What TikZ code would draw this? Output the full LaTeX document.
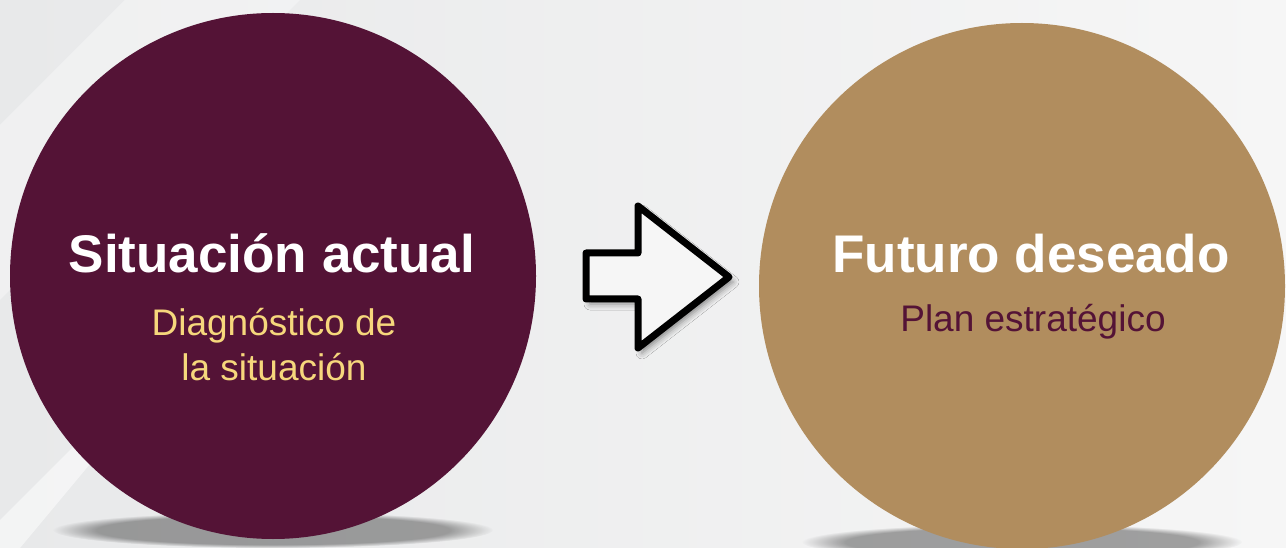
\documentclass[tikz,border=0pt]{standalone}
\usepackage{fontspec}
\setmainfont{Liberation Sans}
\usepackage{tikz}
\usetikzlibrary{shadows.blur,fadings}
\definecolor{vino}{HTML}{541336}
\definecolor{oro}{HTML}{B18D5E}
\definecolor{amarillo}{HTML}{F6D77C}
\definecolor{fondoA}{HTML}{E8E9EA}
\definecolor{fondoB}{HTML}{F6F6F6}
\tikzset{circulo/.style={circle,minimum size=526pt,inner sep=0pt},
         titulo/.style={text=white,anchor=base,font=\fontsize{53}{60}\selectfont\bfseries},
         subtitulo/.style={anchor=base,align=center,font=\fontsize{37}{45}\selectfont}}

\begin{document}
\begin{tikzpicture}[x=1pt,y=-1pt]
    \useasboundingbox (0,0) rectangle (1286,548);
    \shade[left color=fondoA,right color=fondoB] (0,0) rectangle (1286,548);
    \fill[white,opacity=0.35] (0,125) -- (125,0) -- (300,0) -- (0,300) -- cycle;
    \fill[white,opacity=0.5] (0,520) -- (90,430) -- (110,440) -- (20,548) -- (0,548) -- cycle;
    % sombras bajo los circulos
    \fill[black,fill opacity=0.35,path fading=circle with fuzzy edge 20 percent] (273,530) ellipse[x radius=220,y radius=18];
    \fill[black,fill opacity=0.35,path fading=circle with fuzzy edge 20 percent] (1022,542) ellipse[x radius=220,y radius=18];
    \node[circulo,fill=vino] (actual) at (273,276) {};
    \node[circulo,fill=oro]  (futuro) at (1022,286) {};
    \node[titulo] (tActual) at (272,273) {Situación actual};
    \node[subtitulo,text=amarillo] (dActual) at (274,380) {Diagnóstico de\\la situación};
    \node[titulo] (tFuturo) at (1031,273) {Futuro deseado};
    \node[subtitulo,text=vino] (dFuturo) at (1033,331) {Plan estratégico};
    % flecha
    \draw[line width=7pt,line join=round,fill=fondoB,
          blur shadow={shadow xshift=4pt,shadow yshift=-5pt,shadow opacity=45,shadow blur radius=6pt}]
        (586,253) -- (638,253) -- (638,206) -- (729,277) -- (638,348) -- (638,299) -- (586,299) -- cycle;
\end{tikzpicture}
\end{document}
